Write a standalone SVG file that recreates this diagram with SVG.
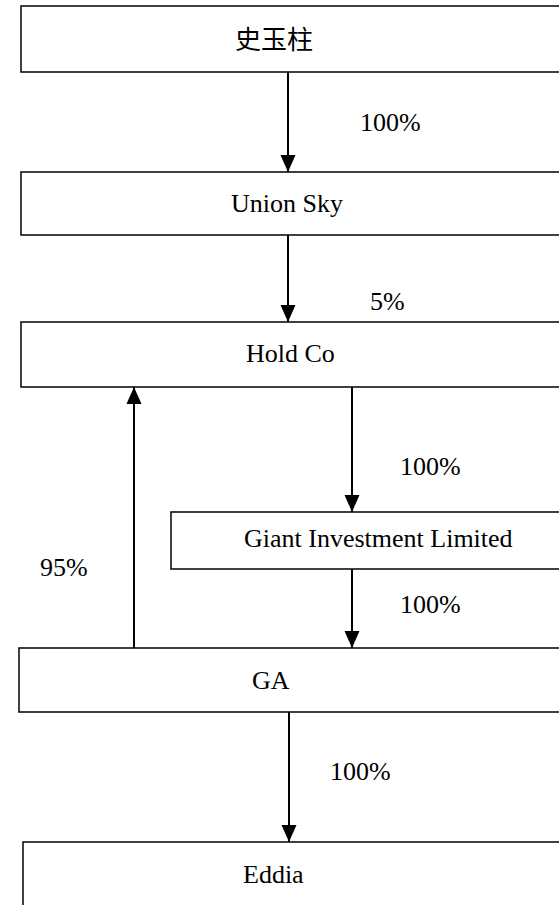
<svg xmlns="http://www.w3.org/2000/svg" width="559" height="905" viewBox="0 0 559 905">
<style>
.box{fill:#fff;stroke:#111;stroke-width:1.6}
.t{font-family:"Liberation Serif","Noto Sans CJK SC",serif;font-size:26px;fill:#000}
.e{stroke:#000;stroke-width:2;fill:none}
</style>
<defs>
<marker id="ah" markerUnits="userSpaceOnUse" markerWidth="16" markerHeight="17" viewBox="0 0 16 17" refX="17" refY="8" orient="auto">
<path d="M0,0.5 L17,8 L0,15.5 Z" fill="#000"/>
</marker>
</defs>
<rect width="559" height="905" fill="#fff"/>
<g id="n1"><rect class="box" x="21" y="6" width="560" height="66"/><text class="t" x="235" y="49">史玉柱</text></g>
<g id="n2"><rect class="box" x="21" y="172" width="560" height="63"/><text class="t" x="231" y="212">Union Sky</text></g>
<g id="n3"><rect class="box" x="21" y="322" width="560" height="65"/><text class="t" x="246" y="362">Hold Co</text></g>
<g id="n4"><rect class="box" x="171" y="512" width="400" height="57"/><text class="t" x="244" y="547">Giant Investment Limited</text></g>
<g id="n5"><rect class="box" x="19" y="648" width="560" height="64"/><text class="t" x="252" y="689">GA</text></g>
<g id="n6"><rect class="box" x="23" y="842" width="560" height="80"/><text class="t" x="243" y="883">Eddia</text></g>
<g id="edges">
<line class="e" x1="288" y1="72" x2="288" y2="172" marker-end="url(#ah)"/>
<line class="e" x1="288" y1="235" x2="288" y2="322" marker-end="url(#ah)"/>
<line class="e" x1="352" y1="387" x2="352" y2="512" marker-end="url(#ah)"/>
<line class="e" x1="352" y1="569" x2="352" y2="648" marker-end="url(#ah)"/>
<line class="e" x1="289" y1="712" x2="289" y2="842" marker-end="url(#ah)"/>
<line class="e" x1="134" y1="648" x2="134" y2="387" marker-end="url(#ah)"/>
<text class="t" x="360" y="131">100%</text>
<text class="t" x="370" y="310">5%</text>
<text class="t" x="400" y="475">100%</text>
<text class="t" x="40" y="576">95%</text>
<text class="t" x="400" y="613">100%</text>
<text class="t" x="330" y="780">100%</text>
</g>
</svg>
